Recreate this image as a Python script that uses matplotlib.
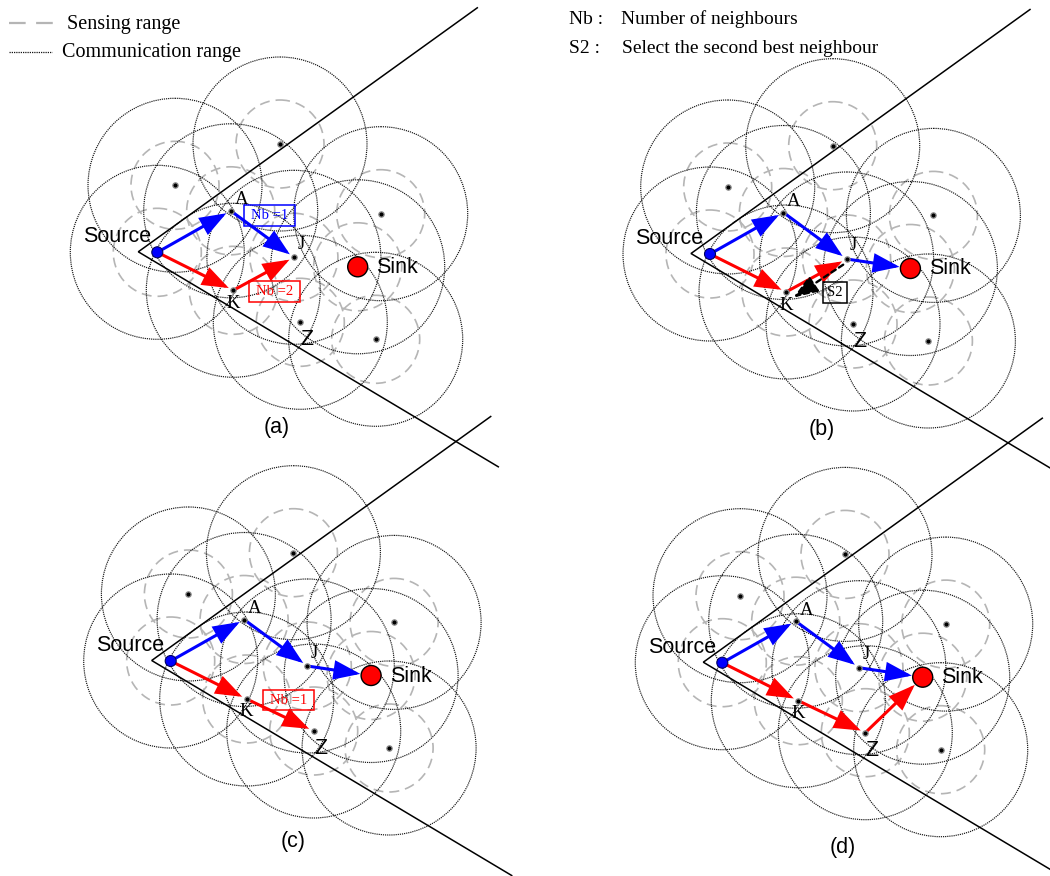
import matplotlib
matplotlib.use('Agg')
import matplotlib.pyplot as plt
from matplotlib.patches import Circle, FancyArrowPatch, Rectangle

W, H = 1050, 876
PX = 100 / 72.0  # pixels per point

# ---------------- data ----------------
node_names = ['Source', 'A', 'J', 'K', 'Z', 'Sink', 'N1', 'N2', 'N3', 'N4']
node_dx = [0.0, 73.4, 136.6, 76.0, 143.0, 200.4, 122.7, 17.7, 223.4, 218.4]
node_dy = [0.0, -41.5, 5.0, 38.0, 70.0, 14.5, -108.3, -67.0, -38.6, 87.0]

comm_radius = 87
sense_radius = 44

panel_tags = ['(a)', '(b)', '(c)', '(d)']
panel_origin_x = [157.3, 710.0, 170.7, 722.3]
panel_origin_y = [252.3, 254.0, 661.0, 662.7]
panel_tag_x = [277, 822, 293, 843]
panel_tag_y = [428, 430, 841, 847]

wedge_vertex = (-19.0, -0.5)
wedge_upper_end = (339.0, -244.0)
wedge_lower_end = (360.0, 215.0)

blue_paths = [
    [('Source', 'A'), ('A', 'J')],
    [('Source', 'A'), ('A', 'J'), ('J', 'Sink')],
    [('Source', 'A'), ('A', 'J'), ('J', 'Sink')],
    [('Source', 'A'), ('A', 'J'), ('J', 'Sink')],
]
red_paths = [
    [('Source', 'K'), ('K', 'J')],
    [('Source', 'K'), ('K', 'J')],
    [('Source', 'K'), ('K', 'Z')],
    [('Source', 'K'), ('K', 'Z'), ('Z', 'Sink')],
]
# boxed annotations: (text, color, dx, dy)
panel_boxes = [
    [('Nb =1', 'blue', 112.4, -37.0), ('Nb =2', 'red', 117.0, 39.0)],
    [('S2', 'black', 124.7, 38.0)],
    [('Nb =1', 'red', 118.0, 39.0)],
    [],
]
# node labels: (text, dx, dy, family)
node_labels = [
    ('A', 84.0, -52.5, 'serif'),
    ('J', 143.5, -8.0, 'serif'),
    ('K', 76.0, 51.0, 'serif'),
    ('Z', 150.0, 87.5, 'sans'),
]

legend_left = ['Sensing range', 'Communication range']
legend_right_keys = ['Nb :', 'S2 :']
legend_right_text = ['Number of neighbours', 'Select the second best neighbour']

SERIF = 'Liberation Serif'
SANS = 'Liberation Sans'
COMM_COLOR = '#151515'
SENSE_COLOR = '#b5b5b5'

fig = plt.figure(figsize=(W / 100, H / 100), dpi=100)
ax = fig.add_axes([0, 0, 1, 1])
ax.set_xlim(0, W)
ax.set_ylim(H, 0)
ax.axis('off')

idx = {n: i for i, n in enumerate(node_names)}


def npos(ox, oy, name):
    i = idx[name]
    return ox + node_dx[i], oy + node_dy[i]


def arrow(p0, p1, color, shrink_px, ls='-', z=6, lw=2.2):
    a = FancyArrowPatch(p0, p1, arrowstyle='-|>,head_length=15,head_width=5.5',
                        mutation_scale=1, shrinkA=0, shrinkB=shrink_px / PX,
                        color=color, lw=lw, linestyle=ls, zorder=z,
                        joinstyle='miter')
    ax.add_patch(a)


for p in range(4):
    ox, oy = panel_origin_x[p], panel_origin_y[p]
    # circles
    for i in range(len(node_names)):
        cx, cy = ox + node_dx[i], oy + node_dy[i]
        ax.add_patch(Circle((cx, cy), sense_radius, fill=False, edgecolor=SENSE_COLOR,
                            lw=1.2, linestyle=(0, (6.0, 3.6)), zorder=1))
    for i in range(len(node_names)):
        cx, cy = ox + node_dx[i], oy + node_dy[i]
        ax.add_patch(Circle((cx, cy), comm_radius, fill=False, edgecolor=COMM_COLOR,
                            lw=0.85, linestyle=(0, (1.0, 0.8)), zorder=2))
    # wedge
    vx, vy = ox + wedge_vertex[0], oy + wedge_vertex[1]
    ax.plot([vx + wedge_upper_end[0], vx, vx + wedge_lower_end[0]],
            [vy + wedge_upper_end[1], vy, vy + wedge_lower_end[1]],
            color='black', lw=1.1, zorder=3, solid_joinstyle='miter')
    # arrows
    for a_, b_ in blue_paths[p]:
        arrow(npos(ox, oy, a_), npos(ox, oy, b_), 'blue', 11 if b_ == 'Sink' else 5)
    for a_, b_ in red_paths[p]:
        arrow(npos(ox, oy, a_), npos(ox, oy, b_), 'red', 11 if b_ == 'Sink' else 5)
    if p == 1:
        jx, jy = npos(ox, oy, 'J')
        kx, ky = npos(ox, oy, 'K')
        arrow((jx - 3.4, jy + 5.7), (kx + 7.3, ky + 5.6), 'black', 0,
              ls=(0, (2.2, 1.6)), z=7, lw=1.7)
    # node dots
    for name in ['A', 'J', 'K', 'Z', 'N1', 'N2', 'N3', 'N4']:
        x, y = npos(ox, oy, name)
        ax.plot([x], [y], 'o', ms=3.8, mfc='black', mec='#8a8a8a', mew=0.9, zorder=8)
    sx, sy = npos(ox, oy, 'Source')
    ax.add_patch(Circle((sx, sy), 5.5, facecolor='blue', edgecolor='#000060', lw=0.8, zorder=9))
    kx, ky = npos(ox, oy, 'Sink')
    ax.add_patch(Circle((kx, ky), 10, facecolor='red', edgecolor='black', lw=1.0, zorder=9))
    # labels
    ax.text(sx - 6.5, sy - 10, 'Source', family=SANS, fontsize=15.5, ha='right',
            va='baseline', zorder=10)
    ax.text(ox + 219, oy + 20.5, 'Sink', family=SANS, fontsize=15.5, ha='left',
            va='baseline', zorder=10)
    for t, dx, dy, fam in node_labels:
        ax.text(ox + dx, oy + dy, t, family=SERIF if fam == 'serif' else SANS,
                fontsize=13.5 if fam == 'serif' else 15.5, ha='center', va='center', zorder=10)
    for t, c, dx, dy in panel_boxes[p]:
        bw, bh = (50.7, 20.7) if t.startswith('Nb') else (24.0, 21.0)
        ax.add_patch(Rectangle((ox + dx - bw / 2, oy + dy - bh / 2), bw, bh, fill=False,
                               edgecolor=c, lw=1.1, zorder=10))
        ax.text(ox + dx, oy + dy + 0.5, t, family=SERIF, fontsize=10.5, color=c,
                ha='center', va='center', zorder=11)
    ax.text(panel_tag_x[p], panel_tag_y[p], panel_tags[p], family=SANS, fontsize=15.5,
            ha='center', va='center', zorder=10)

# legend (top-left)
ax.plot([9, 54], [23, 23], color=SENSE_COLOR, lw=1.6, linestyle=(0, (7.5, 4.7)))
ax.plot([9, 52], [52, 52], color=COMM_COLOR, lw=0.9, linestyle=(0, (1.0, 0.8)))
ax.text(67, 28.5, legend_left[0], family=SERIF, fontsize=14.5, va='baseline')
ax.text(62, 57, legend_left[1], family=SERIF, fontsize=14.5, va='baseline')
# legend (top-right)
ax.text(569, 24, legend_right_keys[0], family=SERIF, fontsize=14, va='baseline')
ax.text(621, 24, legend_right_text[0], family=SERIF, fontsize=14, va='baseline')
ax.text(569, 52.7, legend_right_keys[1], family=SERIF, fontsize=14, va='baseline')
ax.text(622, 52.7, legend_right_text[1], family=SERIF, fontsize=14, va='baseline')

fig.savefig('out.png', dpi=100)
